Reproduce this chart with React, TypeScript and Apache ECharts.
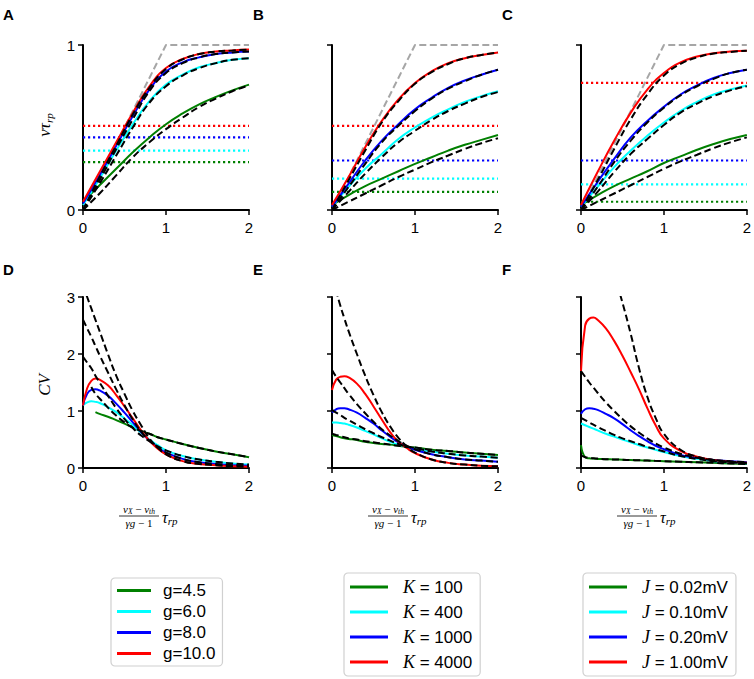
import React, { useEffect, useRef } from "react";
import * as echarts from "echarts";

// ---------- data ----------
const X_TOP = [0, 0.2, 0.4, 0.6, 0.8, 1.0, 1.2, 1.4, 1.6, 1.8, 2.0];
const X_BOT = [0, 0.05, 0.1, 0.15, 0.2, 0.3, 0.4, 0.5, 0.6, 0.7, 0.8, 0.9, 1.0, 1.2, 1.4, 1.6, 1.8, 2.0];
const X_LIMIT = [0, 1, 2];
const Y_LIMIT = [0, 1, 1];

const LEG_G = ["g=4.5", "g=6.0", "g=8.0", "g=10.0"];
const LEG_K = ["K=100", "K=400", "K=1000", "K=4000"];
const LEG_J = ["J=0.02mV", "J=0.10mV", "J=0.20mV", "J=1.00mV"];

// Panel A (rate, g varied)
const A_SIM_1 = [0.05, 0.15, 0.25, 0.35, 0.44, 0.52, 0.585, 0.64, 0.685, 0.725, 0.76];
const A_SIM_2 = [0.03, 0.19, 0.36, 0.52, 0.66, 0.76, 0.82, 0.865, 0.89, 0.91, 0.92];
const A_SIM_3 = [0.04, 0.21, 0.39, 0.57, 0.73, 0.84, 0.895, 0.925, 0.945, 0.955, 0.96];
const A_SIM_4 = [0.05, 0.23, 0.41, 0.59, 0.75, 0.86, 0.915, 0.945, 0.96, 0.967, 0.972];
const A_TH_1 = [0, 0.1, 0.21, 0.32, 0.41, 0.49, 0.56, 0.625, 0.675, 0.72, 0.755];
const A_TH_2 = [0, 0.16, 0.33, 0.5, 0.65, 0.75, 0.815, 0.86, 0.89, 0.91, 0.92];
const A_TH_3 = [0, 0.18, 0.37, 0.55, 0.72, 0.83, 0.89, 0.925, 0.945, 0.955, 0.96];
const A_TH_4 = [0, 0.2, 0.39, 0.58, 0.74, 0.855, 0.913, 0.945, 0.96, 0.967, 0.972];
const A_LEVEL = [0.29, 0.36, 0.44, 0.51];

// Panel B (rate, K varied)
const B_SIM_1 = [0.03, 0.09, 0.145, 0.19, 0.235, 0.28, 0.32, 0.36, 0.395, 0.425, 0.455];
const B_SIM_2 = [0.02, 0.14, 0.25, 0.34, 0.43, 0.5, 0.56, 0.61, 0.655, 0.69, 0.72];
const B_SIM_3 = [0.02, 0.16, 0.3, 0.42, 0.52, 0.61, 0.68, 0.74, 0.785, 0.82, 0.85];
const B_SIM_4 = [0.03, 0.2, 0.38, 0.54, 0.67, 0.77, 0.84, 0.89, 0.92, 0.94, 0.955];
const B_TH_1 = [0, 0.05, 0.1, 0.15, 0.2, 0.245, 0.29, 0.33, 0.37, 0.405, 0.435];
const B_TH_2 = [0, 0.11, 0.22, 0.32, 0.41, 0.48, 0.545, 0.6, 0.645, 0.685, 0.715];
const B_TH_3 = [0, 0.14, 0.28, 0.41, 0.51, 0.6, 0.675, 0.735, 0.78, 0.82, 0.85];
const B_TH_4 = [0, 0.18, 0.36, 0.53, 0.66, 0.765, 0.835, 0.885, 0.92, 0.94, 0.955];
const B_LEVEL = [0.11, 0.19, 0.3, 0.51];

// Panel C (rate, J varied)
const C_SIM_1 = [0.03, 0.09, 0.145, 0.19, 0.235, 0.285, 0.325, 0.365, 0.4, 0.43, 0.455];
const C_SIM_2 = [0.02, 0.14, 0.26, 0.36, 0.45, 0.53, 0.6, 0.655, 0.7, 0.73, 0.755];
const C_SIM_3 = [0.02, 0.17, 0.31, 0.44, 0.54, 0.625, 0.7, 0.755, 0.8, 0.83, 0.85];
const C_SIM_4 = [0.03, 0.23, 0.42, 0.59, 0.73, 0.83, 0.895, 0.93, 0.95, 0.96, 0.965];
const C_TH_1 = [0, 0.05, 0.1, 0.15, 0.2, 0.25, 0.295, 0.335, 0.375, 0.41, 0.44];
const C_TH_2 = [0, 0.11, 0.23, 0.34, 0.43, 0.515, 0.59, 0.645, 0.69, 0.725, 0.75];
const C_TH_3 = [0, 0.14, 0.29, 0.42, 0.53, 0.62, 0.695, 0.75, 0.795, 0.83, 0.85];
const C_TH_4 = [0, 0.18, 0.37, 0.55, 0.7, 0.815, 0.885, 0.925, 0.948, 0.958, 0.965];
const C_LEVEL = [0.05, 0.155, 0.3, 0.77];

// Panel D (CV, g varied)
const D_SIM_1 = [null, null, null, 0.98, 0.95, 0.9, 0.84, 0.78, 0.71, 0.65, 0.6, 0.54, 0.5, 0.42, 0.35, 0.29, 0.24, 0.19];
const D_SIM_2 = [1.1, 1.15, 1.17, 1.16, 1.14, 1.07, 0.98, 0.87, 0.75, 0.62, 0.5, 0.4, 0.31, 0.21, 0.15, 0.11, 0.08, 0.06];
const D_SIM_3 = [1.1, 1.3, 1.37, 1.38, 1.36, 1.27, 1.13, 0.97, 0.8, 0.63, 0.48, 0.36, 0.27, 0.16, 0.1, 0.07, 0.05, 0.04];
const D_SIM_4 = [1.1, 1.4, 1.53, 1.57, 1.55, 1.45, 1.28, 1.08, 0.87, 0.66, 0.48, 0.34, 0.24, 0.12, 0.07, 0.05, 0.03, 0.02];
const D_TH_1 = [null, null, 1.42, 1.3, 1.22, 1.06, 0.92, 0.8, 0.71, 0.65, 0.6, 0.54, 0.5, 0.42, 0.35, 0.29, 0.24, 0.19];
const D_TH_2 = [1.95, 1.85, 1.75, 1.62, 1.5, 1.27, 1.05, 0.86, 0.7, 0.57, 0.47, 0.38, 0.31, 0.21, 0.15, 0.11, 0.08, 0.06];
const D_TH_3 = [2.6, 2.45, 2.3, 2.14, 1.98, 1.68, 1.38, 1.1, 0.85, 0.64, 0.48, 0.36, 0.27, 0.16, 0.1, 0.07, 0.05, 0.04];
const D_TH_4 = [3.2, 3.0, 2.8, 2.6, 2.4, 2.0, 1.62, 1.3, 1.0, 0.75, 0.52, 0.36, 0.24, 0.12, 0.07, 0.05, 0.03, 0.02];

// Panel E (CV, K varied)
const E_SIM_1 = [0.58, 0.56, 0.54, 0.52, 0.51, 0.49, 0.46, 0.44, 0.42, 0.41, 0.39, 0.37, 0.36, 0.32, 0.3, 0.27, 0.25, 0.23];
const E_SIM_2 = [0.8, 0.8, 0.79, 0.78, 0.76, 0.71, 0.65, 0.59, 0.52, 0.46, 0.41, 0.37, 0.34, 0.29, 0.25, 0.22, 0.2, 0.18];
const E_SIM_3 = [0.97, 1.03, 1.05, 1.05, 1.03, 0.97, 0.88, 0.78, 0.66, 0.55, 0.45, 0.38, 0.32, 0.24, 0.19, 0.15, 0.13, 0.11];
const E_SIM_4 = [1.37, 1.55, 1.6, 1.61, 1.59, 1.48, 1.3, 1.08, 0.85, 0.63, 0.46, 0.35, 0.26, 0.15, 0.09, 0.06, 0.04, 0.03];
const E_TH_1 = [0.6, 0.58, 0.56, 0.54, 0.52, 0.5, 0.47, 0.45, 0.43, 0.41, 0.39, 0.37, 0.36, 0.32, 0.3, 0.27, 0.25, 0.23];
const E_TH_2 = [1.02, 0.97, 0.93, 0.88, 0.84, 0.76, 0.68, 0.61, 0.54, 0.48, 0.42, 0.38, 0.35, 0.29, 0.25, 0.22, 0.2, 0.18];
const E_TH_3 = [1.72, 1.6, 1.5, 1.4, 1.3, 1.12, 0.96, 0.81, 0.68, 0.57, 0.47, 0.39, 0.33, 0.24, 0.19, 0.15, 0.13, 0.11];
const E_TH_4 = [3.3, 3.1, 2.85, 2.62, 2.4, 2.0, 1.62, 1.28, 0.98, 0.73, 0.53, 0.38, 0.27, 0.15, 0.09, 0.06, 0.04, 0.03];

// Panel F (CV, J varied)
const F_SIM_1 = [0.4, 0.19, 0.17, 0.165, 0.16, 0.155, 0.15, 0.145, 0.14, 0.135, 0.13, 0.125, 0.12, 0.11, 0.1, 0.09, 0.08, 0.07];
const F_SIM_2 = [0.78, 0.75, 0.72, 0.69, 0.66, 0.6, 0.55, 0.5, 0.45, 0.4, 0.36, 0.32, 0.28, 0.21, 0.16, 0.12, 0.1, 0.08];
const F_SIM_3 = [0.95, 1.03, 1.05, 1.04, 1.02, 0.95, 0.87, 0.77, 0.66, 0.56, 0.47, 0.39, 0.33, 0.23, 0.18, 0.14, 0.12, 0.1];
const F_SIM_4 = [1.7, 2.5, 2.62, 2.64, 2.6, 2.45, 2.23, 1.97, 1.68, 1.38, 1.05, 0.75, 0.52, 0.3, 0.2, 0.14, 0.11, 0.09];
const F_TH_1 = [0.22, 0.19, 0.18, 0.17, 0.165, 0.155, 0.15, 0.145, 0.14, 0.135, 0.13, 0.125, 0.12, 0.11, 0.1, 0.09, 0.08, 0.07];
const F_TH_2 = [0.88, 0.84, 0.8, 0.76, 0.72, 0.65, 0.58, 0.52, 0.47, 0.42, 0.37, 0.33, 0.29, 0.21, 0.16, 0.12, 0.1, 0.08];
const F_TH_3 = [1.7, 1.6, 1.5, 1.41, 1.32, 1.15, 1.0, 0.86, 0.73, 0.62, 0.52, 0.43, 0.36, 0.25, 0.18, 0.14, 0.12, 0.1];
const F_TH_4 = [null, null, null, null, null, null, 3.4, 2.9, 2.35, 1.75, 1.25, 0.88, 0.6, 0.32, 0.2, 0.14, 0.11, 0.09];

// ---------- styling ----------
const COLORS = ["#008000", "#00ffff", "#0000ff", "#ff0000"];
const SANS = "Liberation Sans, Arial, sans-serif";
const SERIF = "Liberation Serif, Times New Roman, serif";

const GRID_LEFTS = [83, 332, 581];
const GRID_W = 166;
const TOP_GRID = { top: 45, height: 165 };
const BOT_GRID = { top: 297, height: 171 };

const TOP_PANELS = [
  { sim: [A_SIM_1, A_SIM_2, A_SIM_3, A_SIM_4], th: [A_TH_1, A_TH_2, A_TH_3, A_TH_4], level: A_LEVEL, names: LEG_G },
  { sim: [B_SIM_1, B_SIM_2, B_SIM_3, B_SIM_4], th: [B_TH_1, B_TH_2, B_TH_3, B_TH_4], level: B_LEVEL, names: LEG_K },
  { sim: [C_SIM_1, C_SIM_2, C_SIM_3, C_SIM_4], th: [C_TH_1, C_TH_2, C_TH_3, C_TH_4], level: C_LEVEL, names: LEG_J },
];
const BOT_PANELS = [
  { sim: [D_SIM_1, D_SIM_2, D_SIM_3, D_SIM_4], th: [D_TH_1, D_TH_2, D_TH_3, D_TH_4], names: LEG_G },
  { sim: [E_SIM_1, E_SIM_2, E_SIM_3, E_SIM_4], th: [E_TH_1, E_TH_2, E_TH_3, E_TH_4], names: LEG_K },
  { sim: [F_SIM_1, F_SIM_2, F_SIM_3, F_SIM_4], th: [F_TH_1, F_TH_2, F_TH_3, F_TH_4], names: LEG_J },
];

function pairs(xs: number[], ys: (number | null)[]) {
  return xs.map((x, i) => [x, ys[i] == null ? null : ys[i]]);
}

function mkLine(idx: number, data: any[], color: string, width: number, type: any, z: number, name?: string) {
  const s: any = {
    type: "line",
    xAxisIndex: idx,
    yAxisIndex: idx,
    data,
    showSymbol: false,
    symbol: "none",
    smooth: 0.5,
    connectNulls: false,
    clip: true,
    silent: true,
    z,
    lineStyle: { color, width, type, cap: "butt" },
    itemStyle: { color },
  };
  if (name) s.name = name;
  return s;
}

function axisCommon(gridIndex: number, min: number, max: number, showLabel: boolean, isX: boolean) {
  return {
    gridIndex,
    type: "value",
    min,
    max,
    interval: 1,
    axisLine: { show: true, onZero: false, lineStyle: { color: "#000", width: 2 } },
    axisTick: { show: true, inside: false, length: 5, lineStyle: { color: "#000", width: 1.5 } },
    axisLabel: { show: showLabel, fontSize: 15, color: "#000", fontFamily: SANS, margin: isX ? 10 : 8 },
    splitLine: { show: false },
  };
}

function fracLabel(cx: number, cy: number) {
  const small = { fontSize: 10, fontFamily: SERIF, fontStyle: "italic", fill: "#000" };
  return {
    type: "group",
    x: cx,
    y: cy,
    silent: true,
    children: [
      {
        type: "text",
        x: -2,
        y: -7,
        style: {
          text: "{v|ν}{s|X}{o| − }{v|ν}{s|th}",
          align: "center",
          verticalAlign: "middle",
          rich: {
            v: { ...small, fontSize: 11, lineHeight: 13 },
            s: { ...small, fontSize: 7.5, lineHeight: 8, verticalAlign: "bottom" },
            o: { fontSize: 11, fontFamily: SERIF, lineHeight: 13 },
          },
        },
      },
      { type: "line", shape: { x1: -22, y1: 0, x2: 18, y2: 0 }, style: { stroke: "#000", lineWidth: 0.8 } },
      {
        type: "text",
        x: -2,
        y: 7,
        style: {
          text: "{v|γg}{o| − 1}",
          align: "center",
          verticalAlign: "middle",
          rich: {
            v: { ...small, fontSize: 11, lineHeight: 13 },
            o: { fontSize: 11, fontFamily: SERIF, lineHeight: 13 },
          },
        },
      },
      {
        type: "text",
        x: 21,
        y: 1,
        style: {
          text: "{t|τ}{s|rp}",
          align: "left",
          verticalAlign: "middle",
          rich: {
            t: { fontSize: 16, fontFamily: SERIF, fontStyle: "italic", lineHeight: 19 },
            s: { fontSize: 11, fontFamily: SERIF, fontStyle: "italic", lineHeight: 12, verticalAlign: "bottom" },
          },
        },
      },
    ],
  };
}

function buildOption() {
  const grid: any[] = [];
  const xAxis: any[] = [];
  const yAxis: any[] = [];
  const series: any[] = [];

  TOP_PANELS.forEach((p, k) => {
    const idx = k;
    grid.push({ left: GRID_LEFTS[k], width: GRID_W, ...TOP_GRID });
    xAxis.push(axisCommon(idx, 0, 2, true, true));
    yAxis.push(axisCommon(idx, 0, 1, k === 0, false));
    p.level.forEach((lv, i) => {
      series.push({ ...mkLine(idx, [[0, lv], [2, lv]], COLORS[i], 2.2, [2.2, 2.8], 2), smooth: false });
    });
    series.push({ ...mkLine(idx, pairs(X_LIMIT, Y_LIMIT), "#a6a6a6", 2, [7, 3.5], 3), smooth: false });
    p.sim.forEach((ys, i) => {
      series.push(mkLine(idx, pairs(X_TOP, ys), COLORS[i], 2, "solid", 4, p.names[i]));
    });
    p.th.forEach((ys) => {
      series.push(mkLine(idx, pairs(X_TOP, ys), "#000", 2, [7, 3.5], 5));
    });
  });

  BOT_PANELS.forEach((p, k) => {
    const idx = k + 3;
    grid.push({ left: GRID_LEFTS[k], width: GRID_W, ...BOT_GRID });
    xAxis.push(axisCommon(idx, 0, 2, true, true));
    yAxis.push(axisCommon(idx, 0, 3, k === 0, false));
    p.sim.forEach((ys, i) => {
      series.push(mkLine(idx, pairs(X_BOT, ys), COLORS[i], 2, "solid", 4, p.names[i]));
    });
    p.th.forEach((ys) => {
      series.push(mkLine(idx, pairs(X_BOT, ys), "#000", 2, [7, 3.5], 5));
    });
  });

  const legendBase = {
    orient: "vertical",
    icon: "rect",
    itemHeight: 3,
    height: 120,
    backgroundColor: "#fff",
    borderColor: "#d0d0d0",
    borderWidth: 1.2,
    borderRadius: 4,
    selectedMode: false,
  };
  const legendRich = {
    sp: { width: 7, lineHeight: 17 },
    sp2: { width: 10, lineHeight: 17 },
    i: { fontFamily: SERIF, fontStyle: "italic", fontSize: 18, color: "#000", lineHeight: 17 },
    n: { fontFamily: SANS, fontSize: 17, color: "#000", lineHeight: 17 },
  };
  const mathFmt = (name: string) => {
    const [a, b] = name.split("=");
    return `{sp2|}{i|${a}}{n| = ${b}}`;
  };
  const plainFmt = (name: string) => `{sp|}{n|${name}}`;
  const legend = [
    {
      ...legendBase,
      data: LEG_G,
      left: 111,
      top: 578,
      itemWidth: 34,
      padding: [4, 7, 4, 6],
      itemGap: 4,
      formatter: plainFmt,
      textStyle: { rich: legendRich },
    },
    {
      ...legendBase,
      data: LEG_K,
      left: 344,
      top: 573,
      itemWidth: 38,
      padding: [5, 8, 5, 6],
      itemGap: 7,
      formatter: mathFmt,
      textStyle: { rich: legendRich },
    },
    {
      ...legendBase,
      data: LEG_J,
      left: 583,
      top: 573,
      itemWidth: 38,
      padding: [5, 8, 5, 6],
      itemGap: 7,
      formatter: mathFmt,
      textStyle: { rich: legendRich },
    },
  ];

  const letter = (t: string, x: number, y: number) => ({
    type: "text",
    x,
    y,
    silent: true,
    style: { text: t, fontSize: 15, fontWeight: "bold", fontFamily: SANS, fill: "#000" },
  });
  const yName = (rich: string, x: number, y: number, richDef: any) => ({
    type: "text",
    x,
    y,
    rotation: Math.PI / 2,
    silent: true,
    style: { text: rich, align: "center", verticalAlign: "middle", rich: richDef },
  });

  const graphic = [
    letter("A", 3, 7),
    letter("B", 253, 7),
    letter("C", 502, 7),
    letter("D", 3, 262),
    letter("E", 253, 262),
    letter("F", 502, 262),
    yName("{t|ντ}{s|rp}", 44, 125, {
      t: { fontSize: 17, fontFamily: SERIF, fontStyle: "italic", lineHeight: 20 },
      s: { fontSize: 11, fontFamily: SERIF, fontStyle: "italic", lineHeight: 12, verticalAlign: "bottom" },
    }),
    yName("{t|CV}", 44, 385, {
      t: { fontSize: 17, fontFamily: SERIF, fontStyle: "italic", lineHeight: 20 },
    }),
    fracLabel(141, 516),
    fracLabel(390, 516),
    fracLabel(639, 516),
  ];

  return {
    animation: false,
    backgroundColor: "#fff",
    grid,
    xAxis,
    yAxis,
    series,
    legend,
    graphic,
  };
}

export default function App() {
  const ref = useRef<HTMLDivElement>(null);
  useEffect(() => {
    if (!ref.current) return;
    const chart = echarts.init(ref.current, null, { renderer: "svg" });
    chart.setOption(buildOption() as any);
    return () => chart.dispose();
  }, []);
  return <div ref={ref} style={{ width: 754, height: 679, position: "absolute", left: 0, top: 0 }} />;
}
